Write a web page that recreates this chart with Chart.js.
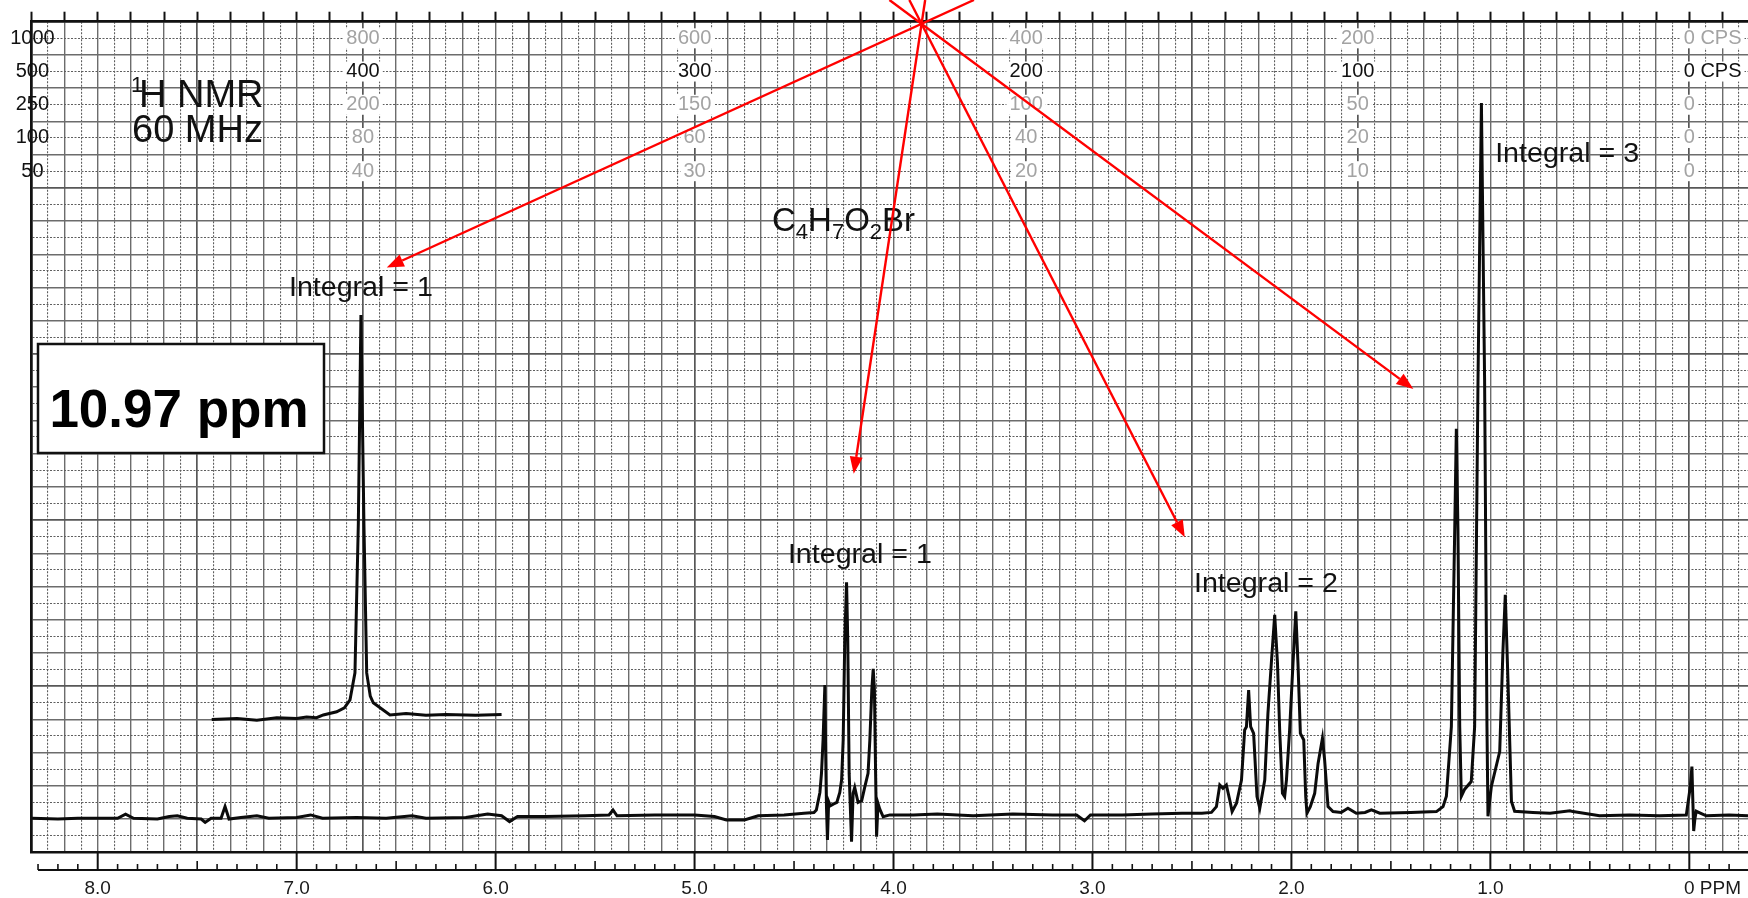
<!DOCTYPE html>
<html>
<head>
<meta charset="utf-8">
<title>1H NMR C4H7O2Br</title>
<script src="https://cdn.jsdelivr.net/npm/chart.js@4.4.0/dist/chart.umd.min.js"></script>
<style>
html,body{margin:0;padding:0;background:#fff;}
canvas{display:block;}
</style>
</head>
<body>
<canvas id="nmrChart" width="1748" height="898"></canvas>
<script>
// ---------------------------------------------
// 1H NMR, 60 MHz, C4H7O2Br  (chart paper look)
// y values are in chart-paper divisions (0..50)
// ---------------------------------------------

// main trace
const specPpm = [8.33,8.20,8.10,7.90,7.86,7.82,7.70,7.64,7.60,7.55,7.48,7.46,7.43,7.38,7.36,7.34,7.28,7.20,7.14,7.00,
  6.93,6.87,6.70,6.55,6.42,6.35,6.15,6.04,5.97,5.93,5.89,5.75,5.55,5.43,5.41,5.39,5.20,5.00,4.90,4.84,4.75,4.68,4.55,4.45,4.40,
  4.388,4.370,4.362,4.354,4.345,4.341,4.337,4.332,4.326,4.318,4.303,4.285,4.270,4.261,4.253,4.245,4.236,4.230,4.223,4.211,
  4.203,4.195,4.178,4.160,4.144,4.128,4.119,4.109,4.102,4.096,4.090,4.085,4.078,4.069,4.052,4.018,
  3.90,3.78,3.60,3.40,3.20,3.08,3.04,3.01,2.85,2.70,2.55,2.45,
  2.402,2.377,2.360,2.344,2.327,2.310,2.298,2.276,2.251,2.235,2.226,2.215,2.205,2.190,2.173,2.159,2.134,2.118,2.101,2.084,
  2.070,2.059,2.045,2.034,2.025,2.009,1.992,1.978,1.967,1.955,1.938,1.928,1.922,1.905,1.883,1.866,1.844,1.833,1.816,1.791,
  1.750,1.716,1.674,1.630,1.598,1.556,1.40,1.271,1.238,1.221,1.196,1.179,1.171,1.163,1.154,1.146,1.129,1.096,1.079,1.062,
  1.045,1.029,1.017,1.012,0.995,0.953,0.937,0.925,0.912,0.894,0.878,0.786,0.70,0.60,0.585,0.451,0.30,0.15,0.015,
  -0.005,-0.013,-0.018,-0.022,-0.028,-0.035,-0.085,-0.20,-0.295];
const specVal = [2.05,2.0,2.05,2.05,2.3,2.05,2.0,2.15,2.2,2.05,2.0,1.8,2.05,2.05,2.75,2.0,2.1,2.2,2.05,2.1,
  2.25,2.05,2.1,2.05,2.2,2.05,2.1,2.3,2.2,1.85,2.15,2.15,2.2,2.25,2.55,2.2,2.25,2.25,2.15,1.95,1.95,2.2,2.25,2.35,2.4,
  2.55,3.6,4.77,6.8,10.07,6.0,2.75,0.74,3.05,2.8,2.9,3.0,3.6,4.35,6.76,12.8,16.26,12.8,4.75,0.64,
  3.55,3.9,3.0,3.1,3.95,4.75,6.76,9.8,11.04,9.8,4.75,0.94,2.95,2.6,2.14,2.25,
  2.25,2.3,2.2,2.3,2.25,2.25,1.9,2.25,2.25,2.3,2.35,2.35,
  2.4,2.75,4.05,3.85,4.05,3.15,2.45,2.95,4.35,7.36,7.56,9.77,7.56,7.16,3.35,2.65,4.35,8.36,11.37,14.3,
  11.37,7.36,3.55,3.35,4.35,7.36,11.37,14.5,11.37,7.16,6.76,3.35,2.35,2.75,3.55,5.35,6.86,5.55,2.75,2.45,
  2.4,2.65,2.35,2.4,2.55,2.35,2.4,2.45,2.75,3.37,7.56,19.5,25.5,19.5,7.56,3.37,3.8,4.26,7.56,28.5,
  45.1,28.5,7.56,2.17,3.96,6.06,12.06,15.5,10.55,3.06,2.47,2.4,2.35,2.5,2.45,2.2,2.25,2.2,2.25,
  3.96,5.16,3.0,1.28,2.0,2.47,2.2,2.25,2.2];

// offset trace of the acid proton (real shift 10.97 ppm)
const insetPpm = [7.427,7.30,7.20,7.10,7.00,6.95,6.90,6.866,6.799,6.760,6.732,6.707,6.690,6.677,6.662,6.648,6.630,6.615,6.531,6.45,6.35,6.25,6.10,5.970];
const insetVal = [8.0,8.05,7.95,8.1,8.05,8.15,8.1,8.27,8.46,8.7,9.17,10.8,19.8,32.35,19.8,10.8,9.4,9.0,8.27,8.35,8.25,8.3,8.25,8.3];

// axis labels
const ppmLabelPos = [8,7,6,5,4,3,2,1,0];
const ppmLabels = ['8.0','7.0','6.0','5.0','4.0','3.0','2.0','1.0','0'];
const sweepLabels = ['1000','500','250','100','50'];
const cpsPos = [400,300,200,100,0];
const cpsRows = [
  ['800','600','400','200','0 CPS'],
  ['400','300','200','100','0 CPS'],
  ['200','150','100','50','0'],
  ['80','60','40','20','0'],
  ['40','30','20','10','0']
];

// annotations
const integralText = ['Integral = 1','Integral = 1','Integral = 2','Integral = 3'];
const integralPpm = [6.677,4.169,2.128,0.614];
const integralVal = [33.5,17.42,15.67,41.57];
const arrowTipPpm = [6.547,4.200,2.536,1.387];
const arrowTipVal = [35.2,22.79,18.96,27.89];
const arrowHub = [3.859,49.87];

const ppmMin = -0.295, ppmMax = 500/60;
const FONT = '"Liberation Sans", Arial, Helvetica, sans-serif';

// grid every 5 cps (1/12 ppm), top ticks every 10 cps
var gridTicks = [];
for(let k=-3; k<=100; k++) gridTicks.push({value:k/12});
var topTicks = [];
for(let k=-1; k<=50; k++) topTicks.push({value:k/6});
var yTicks = [];
for(let d=0; d<=50; d++) yTicks.push({value:d});

function xKind(v){var k=Math.round(v*12); if(k%10===0) return 2; if(k%2===0) return 1; return 0;}
function yKind(v){var d=Math.round(v); if(d%10===0) return 2; if(d%2===0) return 1; return 0;}
const gridColor = ['#5e5e5e','#6c6c6c','#575757'];
const gridWidth = [1.1,1.4,1.7];

// Some Support Functions
function toPts(xs, ys){return xs.map((p,i) => ({x:p, y:ys[i]}));}
function txt(ctx, s, x, y, font, color, align, base){
  ctx.font = font; ctx.fillStyle = color;
  ctx.textAlign = align || 'left'; ctx.textBaseline = base || 'alphabetic';
  ctx.fillText(s, x, y);
}

const paperPlugin = {
  id: 'paper',
  beforeDraw(chart){
    var ctx = chart.ctx;
    ctx.save(); ctx.fillStyle = '#fff'; ctx.fillRect(0,0,chart.width,chart.height); ctx.restore();
  },
  beforeDatasetsDraw(chart){
    var ctx = chart.ctx, xs = chart.scales.x, ys = chart.scales.y;
    ctx.save();
    // sweep width labels on left frame
    sweepLabels.forEach((s,r) => {
      txt(ctx, s, xs.left+1, ys.getPixelForValue(49-2*r), '20px '+FONT, '#111', 'center', 'middle');
    });
    // CPS rows
    cpsRows.forEach((row,r) => {
      var y = ys.getPixelForValue(49-2*r);
      var col = r===1 ? '#111' : '#a3a3a3';
      row.forEach((s,c) => {
        var x = xs.getPixelForValue(cpsPos[c]/60);
        ctx.font = '20px '+FONT;
        var w = ctx.measureText(s).width, w0 = ctx.measureText('0').width;
        var left = s.indexOf('CPS')>0 ? x - w0/2 : x - w/2;
        ctx.fillStyle = '#fff';
        ctx.fillRect(left-3, y-10, w+6, 20);
        txt(ctx, s, left, y, '20px '+FONT, col, 'left', 'middle');
      });
    });
    // title
    txt(ctx, '1', 131, 92, '22px '+FONT, '#111');
    txt(ctx, 'H NMR', 139, 107, '38px '+FONT, '#111');
    txt(ctx, '60 MHz', 132, 142, '38px '+FONT, '#111');
    // formula
    var parts = [['C',0],['4',1],['H',0],['7',1],['O',0],['2',1],['Br',0]];
    var px = 772;
    parts.forEach(p => {
      var f = p[1] ? '22px '+FONT : '33px '+FONT;
      txt(ctx, p[0], px, p[1] ? 239 : 231, f, '#111');
      ctx.font = f; px += ctx.measureText(p[0]).width;
    });
    ctx.restore();
  },
  afterDatasetsDraw(chart){
    var ctx = chart.ctx, xs = chart.scales.x, ys = chart.scales.y, ca = chart.chartArea;
    ctx.save();
    // integral labels
    integralText.forEach((s,i) => {
      var x = xs.getPixelForValue(integralPpm[i]), y = ys.getPixelForValue(integralVal[i]);
      ctx.save(); ctx.translate(x,y); ctx.scale(1.06,1);
      txt(ctx, s, 0, 0, '27px '+FONT, '#111', 'center');
      ctx.restore();
    });
    // real shift box
    ctx.fillStyle = '#fff'; ctx.fillRect(38,344,286,109);
    ctx.lineWidth = 2.5; ctx.strokeStyle = '#111'; ctx.strokeRect(38,344,286,109);
    txt(ctx, '10.97 ppm', 179, 427, 'bold 53px '+FONT, '#000', 'center');
    // ppm ruler below frame
    var rulerY = ca.bottom + 17.7;
    ctx.strokeStyle = '#111'; ctx.lineWidth = 2;
    ctx.beginPath(); ctx.moveTo(xs.getPixelForValue(8.3), rulerY); ctx.lineTo(chart.width, rulerY); ctx.stroke();
    for(let i=-2; i<=83; i++){
      var x = xs.getPixelForValue(i/10);
      var top = i%10===0 ? ca.bottom : (i%5===0 ? rulerY-9 : rulerY-6);
      ctx.lineWidth = i%10===0 ? 2 : 1.6;
      ctx.beginPath(); ctx.moveTo(x, top); ctx.lineTo(x, rulerY); ctx.stroke();
    }
    // 'PPM' after the 0 label
    ctx.font = '19px '+FONT;
    var x0 = xs.getPixelForValue(0) + ctx.measureText('0').width/2;
    txt(ctx, ' PPM', x0, ca.bottom + 25.3 + 11.4, '19px '+FONT, '#1a1a1a', 'left', 'middle');
    // red arrows
    var hx = xs.getPixelForValue(arrowHub[0]), hy = ys.getPixelForValue(arrowHub[1]);
    ctx.strokeStyle = '#ff0000'; ctx.fillStyle = '#ff0000'; ctx.lineWidth = 2.4;
    arrowTipPpm.forEach((p,i) => {
      var tx = xs.getPixelForValue(p), ty = ys.getPixelForValue(arrowTipVal[i]);
      var t = hy/(ty-hy);
      var sx = hx-(tx-hx)*t, sy = 0;
      var ang = Math.atan2(ty-sy, tx-sx), L = 17, hw = 6.5;
      var bx = tx - L*Math.cos(ang), by = ty - L*Math.sin(ang);
      ctx.beginPath(); ctx.moveTo(sx,sy); ctx.lineTo(bx,by); ctx.stroke();
      ctx.beginPath();
      ctx.moveTo(tx,ty);
      ctx.lineTo(bx + hw*Math.sin(ang), by - hw*Math.cos(ang));
      ctx.lineTo(bx - hw*Math.sin(ang), by + hw*Math.cos(ang));
      ctx.closePath(); ctx.fill();
    });
    ctx.restore();
  }
};

function createChart(){
  var config = {
    type: 'scatter',
    data: {datasets: [
      {data: toPts(specPpm, specVal), showLine: true, borderColor: '#0b0b0b', borderWidth: 3, pointRadius: 0, tension: 0},
      {data: toPts(insetPpm, insetVal), showLine: true, borderColor: '#0b0b0b', borderWidth: 3, pointRadius: 0, tension: 0}
    ]},
    options: {
      responsive: false, animation: false, devicePixelRatio: 1,
      layout: {padding: 0},
      plugins: {legend: {display: false}, tooltip: {enabled: false}},
      scales: {
        x: {
          type: 'linear', position: 'bottom', reverse: true, min: ppmMin, max: ppmMax,
          afterBuildTicks: s => { s.ticks = gridTicks.map(t => ({value: t.value})); },
          afterFit: s => { s.height = 45.7; },
          ticks: {
            autoSkip: false, maxRotation: 0, padding: 25.3, color: '#1a1a1a',
            font: {family: FONT, size: 19},
            callback: v => { var k = Math.round(v*12); if(k%12!==0 || k<0) return ''; return ppmLabels[ppmLabelPos.indexOf(k/12)]; }
          },
          grid: {drawTicks: false, color: c => c.tick ? gridColor[xKind(c.tick.value)] : '#666', lineWidth: c => c.tick ? gridWidth[xKind(c.tick.value)] : 1},
          border: {display: true, color: '#111', width: 2.5, dash: c => (c.tick && xKind(c.tick.value)===0) ? [2,1.5] : []}
        },
        xTop: {
          type: 'linear', position: 'top', reverse: true, min: ppmMin, max: ppmMax,
          afterBuildTicks: s => { s.ticks = topTicks.map(t => ({value: t.value})); },
          afterFit: s => { s.height = 21.7; },
          ticks: {display: false},
          grid: {drawOnChartArea: false, drawTicks: true, tickLength: 10, tickColor: '#111', tickWidth: 2},
          border: {display: true, color: '#111', width: 2.5}
        },
        y: {
          type: 'linear', min: 0, max: 50,
          afterBuildTicks: s => { s.ticks = yTicks.map(t => ({value: t.value})); },
          afterFit: s => { s.width = 31.4; },
          ticks: {display: false},
          grid: {drawTicks: false, color: c => c.tick ? gridColor[yKind(c.tick.value)] : '#666', lineWidth: c => c.tick ? gridWidth[yKind(c.tick.value)] : 1},
          border: {display: true, color: '#111', width: 2.5, dash: c => (c.tick && yKind(c.tick.value)===0) ? [2,1.5] : []}
        }
      }
    },
    plugins: [paperPlugin]
  };
  return new Chart(document.getElementById('nmrChart'), config);
}

// Display
createChart();
</script>
</body>
</html>
